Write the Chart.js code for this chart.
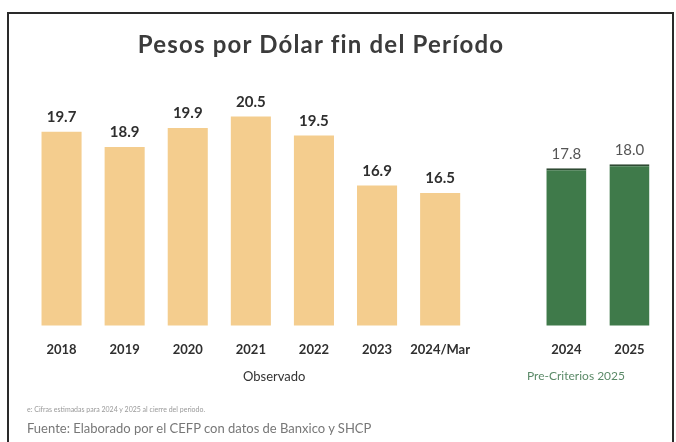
<!DOCTYPE html>
<html>
<head>
<meta charset="utf-8">
<script src="https://cdn.jsdelivr.net/npm/chart.js@4"></script>
<style>
  body { margin: 0; background: #fff; font-family: "Lato", "DejaVu Sans", sans-serif; }
  #wrap { position: relative; width: 676px; height: 442px; overflow: hidden; }
  #box { position: absolute; left: 7px; top: 12px; width: 663px; height: 440px; border: 2px solid #2a2a2a; border-bottom: none; }
  canvas { position: absolute; left: 0; top: 0; }
  .txt { position: absolute; white-space: nowrap; }
  #title { left: 0; width: 642px; top: 29px; text-align: center; font-size: 24px; font-weight: bold; color: #3b3b3b; letter-spacing: 1.2px; }
  #obs { left: 243px; top: 368px; font-size: 13px; color: #333; }
  #pre { left: 527px; top: 368px; font-size: 12px; color: #5b8a68; }
  #note { left: 27px; top: 405px; font-size: 7px; color: #999; }
  #src { left: 27px; top: 420px; font-size: 13px; color: #777; }
</style>
</head>
<body>
<div id="wrap">
  <div id="box"></div>
  <canvas id="myChart" width="676" height="442"></canvas>
  <div class="txt" id="title">Pesos por Dólar fin del Período</div>
  <div class="txt" id="obs">Observado</div>
  <div class="txt" id="pre">Pre-Criterios 2025</div>
  <div class="txt" id="note">e: Cifras estimadas para 2024 y 2025 al cierre del periodo.</div>
  <div class="txt" id="src">Fuente: Elaborado por el CEFP con datos de Banxico y SHCP</div>
</div>
<script>
let years = ["2018", "2019", "2020", "2021", "2022", "2023", "2024/Mar", "", "2024", "2025"];
let observado = [19.7, 18.9, 19.9, 20.5, 19.5, 16.9, 16.5, null, null, null];
let precriterios = [null, null, null, null, null, null, null, null, 17.8, 18.0];

// draws the value above each bar
const valueLabels = {
  id: "valueLabels",
  afterDatasetsDraw(chart) {
    const ctx = chart.ctx;
    ctx.save();
    ctx.textAlign = "center";
    ctx.textBaseline = "bottom";
    chart.data.datasets.forEach((ds, i) => {
      chart.getDatasetMeta(i).data.forEach((bar, j) => {
        if (ds.data[j] == null) return;
        ctx.fillStyle = i == 0 ? "#2f2f2f" : "#555";
        ctx.font = (i == 0 ? "bold " : "") + "15px Lato, 'DejaVu Sans', sans-serif";
        ctx.fillText(ds.data[j].toFixed(1), bar.x, bar.y - 7);
      });
    });
    ctx.restore();
  }
};

const ctx = document.getElementById("myChart");
new Chart(ctx, {
  type: "bar",
  data: {
    labels: years,
    datasets: [
      {
        label: "Observado",
        data: observado,
        backgroundColor: "#f4cd8e",
        grouped: false,
        barPercentage: 0.635,
        categoryPercentage: 1
      },
      {
        label: "Pre-Criterios 2025",
        data: precriterios,
        backgroundColor: "#3f7a4a",
        borderColor: "#2e4a33",
        borderWidth: { top: 2, left: 0, right: 0, bottom: 0 },
        borderSkipped: false,
        grouped: false,
        barPercentage: 0.635,
        categoryPercentage: 1
      }
    ]
  },
  options: {
    responsive: false,
    animation: false,
    layout: { padding: { left: 30, right: 15, top: 80, bottom: 67 } },
    plugins: {
      legend: { display: false },
      tooltip: { enabled: false }
    },
    scales: {
      x: {
        grid: { display: false, drawTicks: false },
        border: { display: false },
        ticks: {
          padding: 17,
          maxRotation: 0,
          minRotation: 0,
          autoSkip: false,
          color: "#2f2f2f",
          font: { size: 13, weight: "bold", family: "Lato, 'DejaVu Sans', sans-serif" }
        }
      },
      y: {
        display: false,
        min: 9.6,
        max: 22.4
      }
    }
  },
  plugins: [valueLabels]
});
</script>
</body>
</html>
